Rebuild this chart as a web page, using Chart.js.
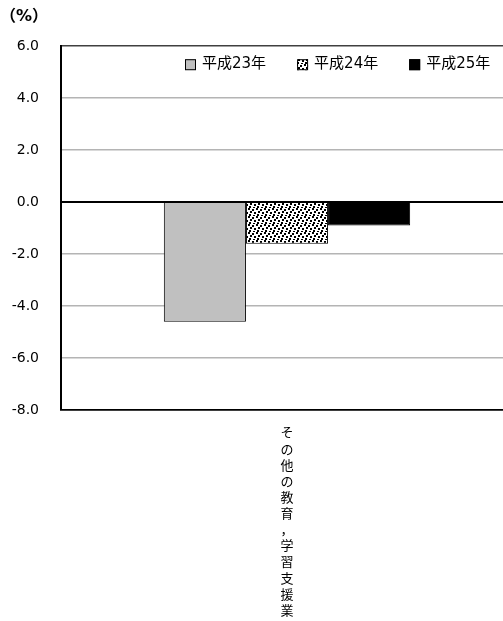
<!DOCTYPE html>
<html>
<head>
<meta charset="utf-8">
<script src="https://cdn.jsdelivr.net/npm/chart.js@4/dist/chart.umd.min.js"></script>
<style>
  html, body { margin: 0; padding: 0; background: #fff; overflow: hidden; }
  #wrap { width: 513px; height: 621px; }
</style>
</head>
<body>
<div id="wrap"><canvas id="chart"></canvas></div>
<script>
// chart data
var categories = ['その他の教育，学習支援業'];
var seriesNames = ['平成23年', '平成24年', '平成25年'];
var h23 = [-4.6];
var h24 = [-1.6];
var h25 = [-0.9];
var yTicks = [6, 4, 2, 0, -2, -4, -6, -8];

var FONT = '"DejaVu Sans", "Noto Sans CJK JP", sans-serif';

// dotted fill for the middle series
function dotPattern() {
    var c = document.createElement('canvas');
    c.width = 8; c.height = 8;
    var g = c.getContext('2d');
    g.fillStyle = '#fff';
    g.fillRect(0, 0, 8, 8);
    g.fillStyle = '#000';
    g.fillRect(0, 0, 2, 2);
    g.fillRect(4, 1, 2, 2);
    g.fillRect(2, 3, 2, 2);
    g.fillRect(6, 4, 2, 2);
    g.fillRect(1, 6, 2, 2);
    g.fillRect(5, 7, 2, 1);
    return g.createPattern(c, 'repeat');
}
var dots = dotPattern();

var fills = ['#c0c0c0', dots, '#000000'];

// legend drawn inside the plot, top right
var innerLegend = {
    id: 'innerLegend',
    afterDraw: function (chart) {
        var ctx = chart.ctx;
        var area = chart.chartArea;
        ctx.save();
        ctx.font = '15px ' + FONT;
        ctx.textBaseline = 'middle';
        var y = area.top + 18;
        var x = 185;
        chart.data.datasets.forEach(function (ds) {
            ctx.fillStyle = ds.backgroundColor;
            ctx.fillRect(x, y - 5, 11, 11);
            ctx.strokeStyle = '#000';
            ctx.lineWidth = 1;
            ctx.strokeRect(x + 0.5, y - 4.5, 10, 10);
            ctx.fillStyle = '#000';
            ctx.fillText(ds.label, x + 17, y);
            x += 17 + ctx.measureText(ds.label).width + 31;
        });
        ctx.restore();
    }
};

new Chart(document.getElementById('chart'), {
    type: 'bar',
    data: {
        labels: categories,
        datasets: [
            { label: seriesNames[0], data: h23, backgroundColor: fills[0] },
            { label: seriesNames[1], data: h24, backgroundColor: fills[1] },
            { label: seriesNames[2], data: h25, backgroundColor: fills[2] }
        ]
    },
    options: {
        responsive: true,
        maintainAspectRatio: false,
        animation: false,
        devicePixelRatio: 1,
        layout: { padding: { left: 0, right: 0, top: 0, bottom: 0 } },
        datasets: {
            bar: {
                categoryPercentage: 0.545,
                barPercentage: 1.0,
                borderColor: '#000',
                borderWidth: 1
            }
        },
        plugins: {
            legend: { display: false },
            tooltip: { enabled: false },
            title: {
                display: true,
                text: '（%）',
                align: 'start',
                color: '#000',
                font: { family: FONT, size: 16, weight: 'bold' },
                padding: { top: 7, bottom: 20 }
            }
        },
        scales: {
            x: {
                grid: { display: false },
                border: { display: true, color: '#000', width: 1.5 },
                ticks: {
                    color: '#000',
                    font: { family: FONT, size: 13, lineHeight: 1.24 },
                    padding: 8,
                    maxRotation: 0,
                    autoSkip: false,
                    callback: function (v, i) {
                        // one character per line, stacked vertically
                        return categories[i].split('');
                    }
                },
                afterFit: function (scale) { scale.height = 211; }
            },
            y: {
                min: -8,
                max: 6,
                afterBuildTicks: function (scale) {
                    scale.ticks = yTicks.map(function (v) { return { value: v }; });
                },
                grid: {
                    drawTicks: false,
                    color: function (c) {
                        if (c.tick.value === 0 || c.tick.value === -8) return '#000';
                        if (c.tick.value === 6) return '#404040';
                        return '#b4b4b4';
                    },
                    lineWidth: function (c) {
                        return c.tick.value === 0 ? 2 : 1.5;
                    }
                },
                border: { display: true, color: '#000', width: 2 },
                ticks: {
                    color: '#000',
                    font: { family: FONT, size: 14 },
                    padding: 22,
                    callback: function (v) { return Number(v).toFixed(1); }
                },
                afterFit: function (scale) { scale.width = 61; }
            }
        }
    },
    plugins: [innerLegend]
});
</script>
</body>
</html>
